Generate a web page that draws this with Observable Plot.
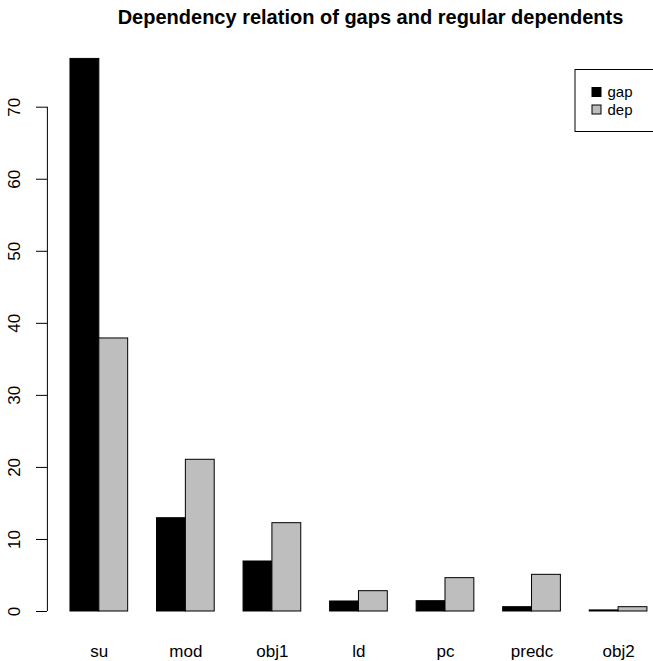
<!DOCTYPE html>
<html>
<head>
<meta charset="utf-8">
<script src="https://cdn.jsdelivr.net/npm/d3@7"></script>
<script src="https://cdn.jsdelivr.net/npm/@observablehq/plot@0.6"></script>
<style>
  html, body { margin: 0; padding: 0; background: #fff; }
  #chart svg { display: block; font-family: "Liberation Sans", Arial, Helvetica, sans-serif; }
</style>
</head>
<body>
<div id="chart"></div>
<script>
const title = "Dependency relation of gaps and regular dependents";
const categories = ["su", "mod", "obj1", "ld", "pc", "predc", "obj2"];
const series = ["gap", "dep"];
const seriesColors = ["#000000", "#BEBEBE"];
const gapValues = [76.7, 12.95, 6.94, 1.39, 1.43, 0.6, 0.15];
const depValues = [37.9, 21.06, 12.26, 2.82, 4.63, 5.09, 0.6];
const yTicks = [0, 10, 20, 30, 40, 50, 60, 70];

const valuesBySeries = [gapValues, depValues];
const rows = [];
categories.forEach((cat, i) => {
  series.forEach((s, j) => {
    rows.push({cat, series: s, value: valuesBySeries[j][i], x1: 1 + 3 * i + j, x2: 2 + 3 * i + j});
  });
});
const groups = categories.map((cat, i) => ({cat, x: 2 + 3 * i}));

const W = 653, H = 661;
const FONT = "Liberation Sans, Arial, Helvetica, sans-serif";

function legendMark(index, scales, values, dims) {
  const g = d3.create("svg:g").attr("font-family", FONT).attr("font-size", 15);
  const x0 = dims.width - 78, y0 = 69.5;
  g.append("rect").attr("x", x0).attr("y", y0).attr("width", 95).attr("height", 62)
    .attr("fill", "white").attr("stroke", "black").attr("stroke-width", 1);
  series.forEach((s, j) => {
    const cy = y0 + 22.5 + j * 17.5;
    g.append("rect").attr("x", x0 + 17).attr("y", cy - 4.5).attr("width", 9).attr("height", 9)
      .attr("fill", seriesColors[j]).attr("stroke", "black").attr("stroke-width", 1);
    g.append("text").attr("x", x0 + 45).attr("y", cy).attr("dy", "0.35em").text(s);
  });
  return g.node();
}

const chart = Plot.plot({
  width: W,
  height: H,
  marginLeft: 47,
  marginRight: 0,
  marginTop: 37,
  marginBottom: 28,
  style: {fontFamily: FONT, background: "white"},
  x: {type: "linear", domain: [0.2, 21.8], range: [46.9, 670], axis: null},
  y: {domain: [0, 70], range: [611, 106.7], axis: null},
  color: {domain: series, range: seriesColors},
  marks: [
    Plot.rectY(rows, {x1: "x1", x2: "x2", y1: 0, y2: "value", fill: "series", stroke: "black", strokeWidth: 1}),
    Plot.ruleX([0.2], {y1: yTicks[0], y2: yTicks[yTicks.length - 1], stroke: "black", strokeWidth: 1}),
    Plot.axisY({ticks: yTicks, tickSize: 11, tickFormat: () => "", stroke: "black", strokeOpacity: 1, label: null, anchor: "left"}),
    Plot.text(yTicks, {y: d => d, text: d => String(d), frameAnchor: "left", dx: -33, rotate: -90, fontSize: 17, fill: "black", textAnchor: "middle", lineAnchor: "middle"}),
    Plot.text(groups, {x: "x", text: "cat", frameAnchor: "bottom", dy: 18, fontSize: 17, fill: "black", lineAnchor: "middle"}),
    Plot.text([title], {text: d => d, frameAnchor: "top", dx: 20, dy: -19.5, fontSize: 20, fontWeight: "bold", fill: "black", lineAnchor: "middle"}),
    legendMark
  ]
});
document.getElementById("chart").appendChild(chart);
</script>
</body>
</html>
